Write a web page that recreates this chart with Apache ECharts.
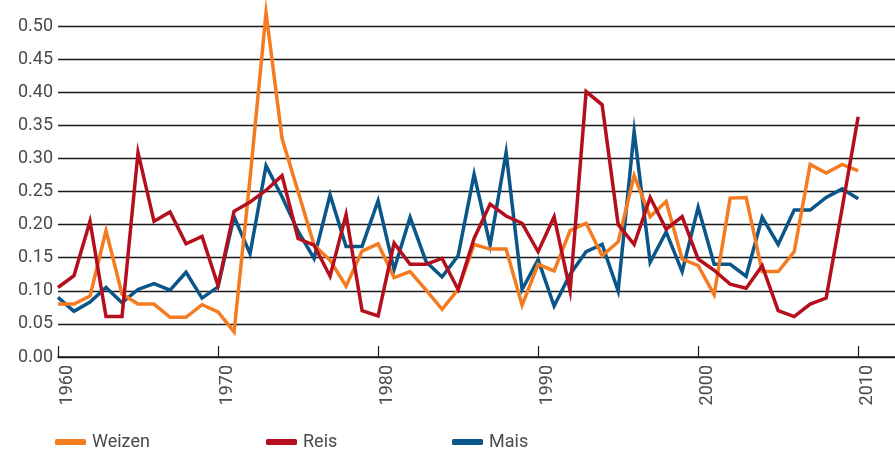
<!DOCTYPE html>
<html>
<head>
<meta charset="utf-8">
<script src="https://cdn.jsdelivr.net/npm/echarts@6/dist/echarts.min.js"></script>
<style>
  html, body { margin: 0; padding: 0; background: #fff; }
  #chart { width: 895px; height: 449px; }
</style>
</head>
<body>
<div id="chart"></div>
<script>
// Jahre und Werte
var years = [1960,1961,1962,1963,1964,1965,1966,1967,1968,1969,
             1970,1971,1972,1973,1974,1975,1976,1977,1978,1979,
             1980,1981,1982,1983,1984,1985,1986,1987,1988,1989,
             1990,1991,1992,1993,1994,1995,1996,1997,1998,1999,
             2000,2001,2002,2003,2004,2005,2006,2007,2008,2009,2010];

var weizen = [0.080,0.080,0.092,0.191,0.095,0.080,0.080,0.060,0.060,0.079,
              0.068,0.038,0.270,0.520,0.330,0.250,0.169,0.146,0.107,0.160,
              0.171,0.120,0.129,0.101,0.072,0.102,0.170,0.163,0.163,0.078,
              0.140,0.130,0.191,0.202,0.153,0.174,0.274,0.212,0.235,0.148,
              0.138,0.094,0.240,0.241,0.129,0.129,0.159,0.291,0.278,0.291,0.281];

var reis = [0.105,0.123,0.205,0.061,0.061,0.309,0.205,0.219,0.171,0.182,
            0.108,0.220,0.234,0.252,0.274,0.179,0.169,0.122,0.215,0.070,
            0.062,0.172,0.140,0.140,0.149,0.102,0.179,0.231,0.213,0.202,
            0.159,0.212,0.100,0.401,0.381,0.200,0.170,0.241,0.193,0.212,
            0.148,0.131,0.110,0.104,0.138,0.070,0.061,0.080,0.089,0.225,0.363];

var mais = [0.090,0.069,0.083,0.105,0.082,0.102,0.111,0.101,0.128,0.089,
            0.106,0.212,0.156,0.289,0.242,0.190,0.149,0.245,0.167,0.167,
            0.236,0.132,0.211,0.144,0.121,0.153,0.276,0.169,0.309,0.102,
            0.147,0.077,0.125,0.159,0.170,0.100,0.341,0.143,0.189,0.129,
            0.226,0.140,0.140,0.122,0.211,0.170,0.222,0.222,0.241,0.254,0.239];

var names = ['Weizen', 'Reis', 'Mais'];
var colors = { Weizen: '#f47b20', Reis: '#b50f1e', Mais: '#0b5689' };

function pairs(vals) {
  var out = [];
  for (var i = 0; i < vals.length; i++) out.push([years[i], vals[i]]);
  return out;
}

function lineSeries(name, vals) {
  return {
    name: name,
    type: 'line',
    data: pairs(vals),
    symbol: 'none',
    clip: false,
    animation: false,
    lineStyle: { color: colors[name], width: 3.5, join: 'miter', miterLimit: 10 },
    itemStyle: { color: colors[name] }
  };
}

var font = 'Roboto';
var labelColor = '#4a4a4a';

function legendAt(name, left) {
  return {
    data: [name],
    left: left,
    top: 428,
    icon: 'roundRect',
    itemWidth: 31,
    itemHeight: 6,
    itemGap: 0,
    selectedMode: false,
    textStyle: { fontFamily: font, fontSize: 18, color: labelColor, padding: [0, 0, 0, 1] }
  };
}

var myChart = echarts.init(document.getElementById('chart'));

var option = {
  backgroundColor: '#fff',
  animation: false,
  grid: { left: 58, right: 0, top: 26, bottom: 92 },
  legend: [legendAt('Weizen', 50), legendAt('Reis', 261), legendAt('Mais', 447)],
  xAxis: {
    type: 'value',
    min: 1960,
    max: 2012.3,
    interval: 10,
    splitLine: { show: false },
    axisLine: { show: true, lineStyle: { color: '#1a1a1a', width: 1.5 } },
    axisTick: { show: true, inside: true, length: 11, lineStyle: { color: '#1a1a1a', width: 1.2 } },
    axisLabel: {
      rotate: 90,
      margin: 8,
      verticalAlign: 'top',
      showMaxLabel: false,
      fontFamily: font,
      fontSize: 18,
      color: labelColor,
      formatter: function (v) { return String(v); }
    }
  },
  yAxis: {
    type: 'value',
    min: 0,
    max: 0.5,
    interval: 0.05,
    axisLine: { show: false },
    axisTick: { show: false },
    splitLine: { show: true, lineStyle: { color: '#1a1a1a', width: 1.3 } },
    axisLabel: {
      margin: 5,
      fontFamily: font,
      fontSize: 18,
      color: labelColor,
      verticalAlign: 'middle',
      padding: [0, 0, 10, 0],
      formatter: function (v) { return v.toFixed(2); }
    }
  },
  series: [
    lineSeries('Mais', mais),
    lineSeries('Weizen', weizen),
    lineSeries('Reis', reis)
  ]
};

myChart.setOption(option);
</script>
</body>
</html>
